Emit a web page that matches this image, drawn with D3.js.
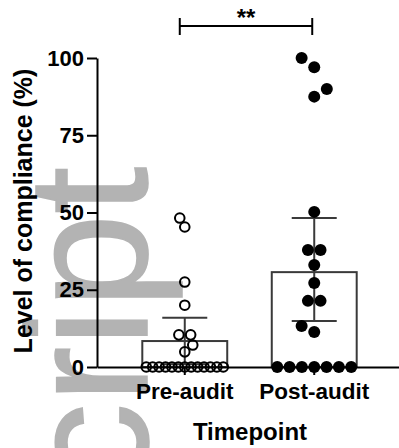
<!DOCTYPE html>
<html>
<head>
<meta charset="utf-8">
<script src="https://cdn.jsdelivr.net/npm/d3@7/dist/d3.min.js"></script>
<style>
  html, body { margin: 0; padding: 0; background: #ffffff; }
  svg { display: block; }
  text { font-family: "Liberation Sans", Arial, Helvetica, sans-serif; font-weight: bold; }
</style>
</head>
<body>
<svg id="chart" width="399" height="448"></svg>
<script>
// Compliance before and after the audit: individual scores, group mean and 95% CI
const categories = ["Pre-audit", "Post-audit"];
const preAudit = [0, 0, 0, 0, 0, 0, 0, 0, 0, 0, 0, 0, 0, 4.9, 7.1, 10.4, 10.4, 20, 27.5, 45.3, 48.2];
const postAudit = [0, 0, 0, 0, 0, 0, 0, 11.3, 13.3, 21.4, 21.4, 27.2, 33, 37.9, 37.9, 50.2, 87.5, 90, 97, 100];
const groupMeans = [8.4, 30.7];
const ciLower = [0.9, 14.9];
const ciUpper = [15.9, 48.2];
const yTicks = [0, 25, 50, 75, 100];
const significance = "**";
const watermark = "script";

const svg = d3.select("#chart");

// faint background lettering
svg.append("text")
  .attr("transform", "translate(147,573) rotate(-90)")
  .attr("font-size", 170)
  .style("font-weight", "normal")
  .attr("fill", "#b3b3b3")
  .attr("stroke", "#b3b3b3")
  .attr("stroke-width", 1.5)
  .text(watermark);

const x = d3.scaleBand().domain(categories).range([119, 380]).paddingInner(0.344).paddingOuter(0.18);
const y = d3.scaleLinear().domain([0, 100]).range([367, 58]);
const cx = c => x(c) + x.bandwidth() / 2;

const barStroke = "#3a3a3a";

// bars
svg.selectAll("rect.bar").data(categories).join("rect")
  .attr("class", "bar")
  .attr("x", d => x(d))
  .attr("width", x.bandwidth())
  .attr("y", (d, i) => y(groupMeans[i]))
  .attr("height", (d, i) => y(0) - y(groupMeans[i]))
  .attr("fill", "#ffffff")
  .attr("stroke", barStroke)
  .attr("stroke-width", 2);

// error bars
const capHalf = 22.5;
const eb = svg.selectAll("g.err").data(categories).join("g").attr("class", "err")
  .attr("stroke", barStroke).attr("stroke-width", 2);
eb.append("line")
  .attr("x1", d => cx(d)).attr("x2", d => cx(d))
  .attr("y1", (d, i) => y(ciLower[i])).attr("y2", (d, i) => y(ciUpper[i]));
eb.append("line")
  .attr("x1", d => cx(d) - capHalf).attr("x2", d => cx(d) + capHalf)
  .attr("y1", (d, i) => y(ciUpper[i])).attr("y2", (d, i) => y(ciUpper[i]));
eb.append("line")
  .attr("x1", d => cx(d) - capHalf).attr("x2", d => cx(d) + capHalf)
  .attr("y1", (d, i) => y(ciLower[i])).attr("y2", (d, i) => y(ciLower[i]));

// axes
const yAxis = d3.axisLeft(y).tickValues(yTicks).tickSize(10).tickSizeOuter(0).tickPadding(3);
const gy = svg.append("g").attr("transform", "translate(97,0)").call(yAxis);
gy.select(".domain").attr("stroke", "#000").attr("stroke-width", 2);
gy.selectAll(".tick line").attr("stroke", "#000").attr("stroke-width", 2);
gy.selectAll(".tick text").attr("font-size", 22).attr("fill", "#000")
  .style("font-family", "'Liberation Sans', Arial, sans-serif").style("font-weight", "bold");

const xAxis = d3.axisBottom(d3.scaleLinear().domain([0, 1]).range([97, 399]))
  .tickValues([]).tickSizeOuter(0);
const gx = svg.append("g").attr("transform", `translate(0,${y(0)})`).call(xAxis);
gx.select(".domain").attr("stroke", "#000").attr("stroke-width", 2);
svg.selectAll("line.xtick").data(categories).join("line")
  .attr("class", "xtick")
  .attr("x1", d => cx(d)).attr("x2", d => cx(d))
  .attr("y1", y(0)).attr("y2", y(0) + 8)
  .attr("stroke", "#000").attr("stroke-width", 2);

// swarm placement: equal values share a centred row, others step sideways when they collide
function swarm(values, center, r, maxRow, firstSide, fullSlot) {
  const slot = 2 * r + 0.6;
  const sorted = values.slice().sort((a, b) => a - b);
  const groups = d3.groups(sorted, v => v.toFixed(1));
  const placed = [];
  let side = firstSide;
  groups.forEach(([, vals]) => {
    const v = vals[0];
    const py = y(v);
    if (vals.length > 1) {
      const sp = Math.min(slot, maxRow / (vals.length - 1));
      vals.forEach((d, k) => placed.push({ v: d, x: center + (k - (vals.length - 1) / 2) * sp, y: py }));
    } else {
      const hits = dx => placed.some(p => Math.hypot(p.x - (center + dx), p.y - py) < 2 * r - 1);
      let dx = 0;
      if (hits(0)) {
        const step = fullSlot ? slot : 1;
        let k = 1;
        while (hits(side * k * step) && k * step < 40) k++;
        dx = side * k * step;
        side = -side;
      }
      placed.push({ v, x: center + dx, y: py });
    }
  });
  return placed;
}

const prePts = swarm(preAudit, cx(categories[0]), 5.6, 77, 1, false);
const postPts = swarm(postAudit, cx(categories[1]), 6, 74, -1, true);

svg.selectAll("circle.pre").data(prePts).join("circle")
  .attr("class", "pre")
  .attr("cx", d => d.x).attr("cy", d => d.y).attr("r", 4.8)
  .attr("fill", "none").attr("stroke", "#000").attr("stroke-width", 2);

svg.selectAll("circle.post").data(postPts).join("circle")
  .attr("class", "post")
  .attr("cx", d => d.x).attr("cy", d => d.y).attr("r", 6)
  .attr("fill", "#000");

// category labels and titles
svg.selectAll("text.cat").data(categories).join("text")
  .attr("class", "cat")
  .attr("x", d => cx(d)).attr("y", 399)
  .attr("text-anchor", "middle").attr("font-size", 22.5).attr("fill", "#000")
  .text(d => d);

svg.append("text")
  .attr("x", 250).attr("y", 440)
  .attr("text-anchor", "middle").attr("font-size", 24).attr("fill", "#000")
  .text("Timepoint");

svg.append("text")
  .attr("transform", "translate(32,211) rotate(-90)")
  .attr("text-anchor", "middle").attr("font-size", 25).attr("fill", "#000")
  .text("Level of compliance (%)");

// significance bracket
const bx1 = cx(categories[0]) - 5, bx2 = cx(categories[1]) - 2;
const br = svg.append("g").attr("stroke", "#000").attr("stroke-width", 2);
br.append("line").attr("x1", bx1).attr("x2", bx2).attr("y1", 26).attr("y2", 26);
br.append("line").attr("x1", bx1).attr("x2", bx1).attr("y1", 18).attr("y2", 35);
br.append("line").attr("x1", bx2).attr("x2", bx2).attr("y1", 18).attr("y2", 35);
svg.append("text")
  .attr("x", (bx1 + bx2) / 2).attr("y", 26)
  .attr("text-anchor", "middle").attr("font-size", 24).attr("fill", "#000")
  .text(significance);
</script>
</body>
</html>
